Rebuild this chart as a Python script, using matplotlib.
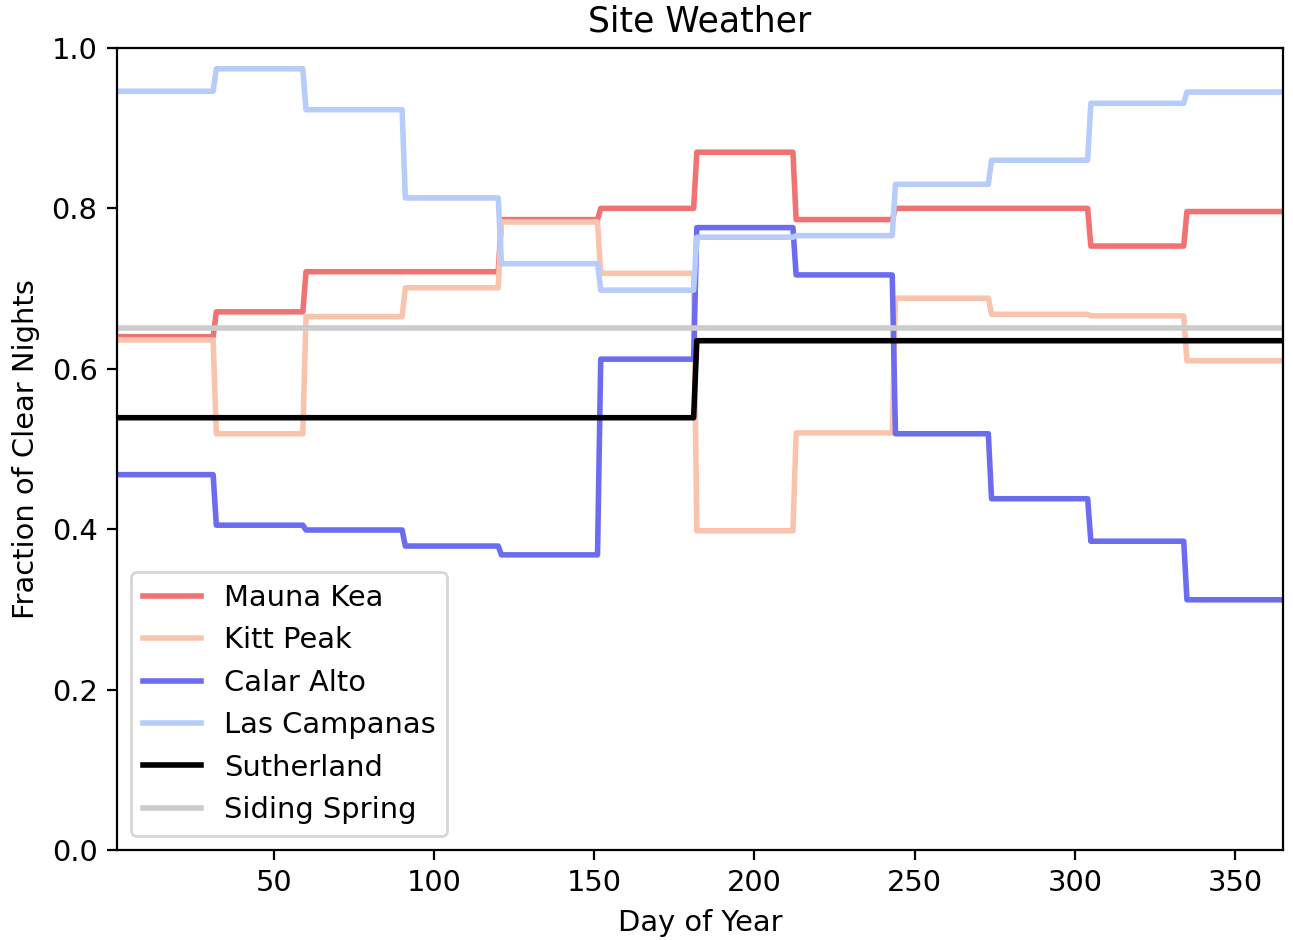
import numpy as np
import matplotlib
matplotlib.use('Agg')
import matplotlib.pyplot as plt

plt.rcParams['font.size'] = 10.4

# days in each month (non-leap year)
month_days = [31, 28, 31, 30, 31, 30, 31, 31, 30, 31, 30, 31]

# monthly fraction of clear nights per site
mauna_kea = [0.640, 0.671, 0.721, 0.721, 0.786, 0.800, 0.870, 0.786, 0.800, 0.800, 0.753, 0.796]
kitt_peak = [0.636, 0.519, 0.665, 0.701, 0.783, 0.719, 0.398, 0.520, 0.688, 0.668, 0.666, 0.610]
calar_alto = [0.468, 0.405, 0.399, 0.379, 0.368, 0.612, 0.776, 0.717, 0.519, 0.438, 0.385, 0.312]
las_campanas = [0.946, 0.974, 0.923, 0.813, 0.731, 0.698, 0.764, 0.766, 0.830, 0.860, 0.931, 0.945]
sutherland = [0.539] * 6 + [0.635] * 6
siding_spring = [0.651] * 12

sites = ['Mauna Kea', 'Kitt Peak', 'Calar Alto', 'Las Campanas', 'Sutherland', 'Siding Spring']
colors = ['#f07272', '#f9c4ae', '#6c6cf0', '#b7ccf9', 'black', '#cccccc']
data = [mauna_kea, kitt_peak, calar_alto, las_campanas, sutherland, siding_spring]

day = np.arange(1, 366)

fig = plt.figure(figsize=(6.465, 4.7), dpi=200)
ax = fig.add_axes([0.0905, 0.0957, 0.9018, 0.8533])

for name, color, vals in zip(sites, colors, data):
    daily = np.repeat(vals, month_days)
    ax.plot(day, daily, color=color, lw=2, label=name)

ax.set_xlim(1, 365)
ax.set_ylim(0, 1)
ax.set_xlabel('Day of Year')
ax.set_ylabel('Fraction of Clear Nights')
ax.set_title('Site Weather')
ax.legend(loc='lower left')

fig.savefig('out.png', dpi=200)
